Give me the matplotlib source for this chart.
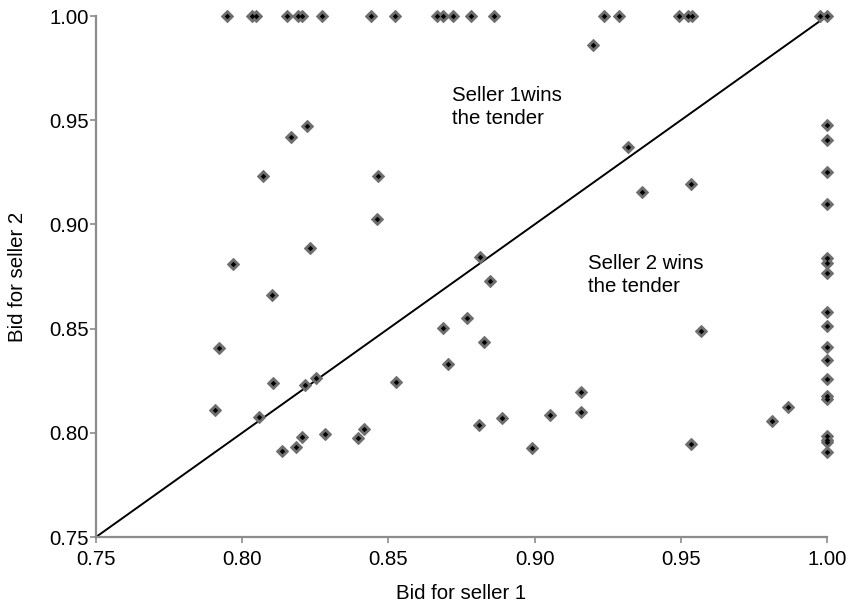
import matplotlib
matplotlib.use('Agg')
import matplotlib.pyplot as plt

# bids
bid_seller1 = [0.7948, 0.8035, 0.8046, 0.8154, 0.8192, 0.8203, 0.8274, 0.8440, 0.8523,
               0.8665, 0.8688, 0.8720, 0.8781, 0.8861, 0.9237, 0.9288, 0.9495, 0.9525,
               0.9538, 0.9976, 1.0,
               0.9201, 0.9320, 0.9368, 0.8223, 0.8168, 0.8072, 0.8466, 0.8460, 0.8232,
               0.7967, 0.8101, 0.7920, 0.8104, 0.8215, 0.8251, 0.7906, 0.8058, 0.8137,
               0.8183, 0.8205, 0.8283, 0.8395, 0.8418,
               0.8813, 0.8847, 0.8770, 0.8687, 0.8827, 0.8703, 0.8525, 0.9160, 0.9159,
               0.9053, 0.8888, 0.8811, 0.8990, 0.9534, 0.9569, 0.9534, 0.9813, 0.9867,
               1.0, 1.0, 1.0, 1.0, 1.0, 1.0, 1.0, 1.0, 1.0, 1.0, 1.0, 1.0, 1.0, 1.0,
               1.0, 1.0, 1.0, 1.0]
bid_seller2 = [1.0, 1.0, 1.0, 1.0, 1.0, 1.0, 1.0, 1.0, 1.0,
               1.0, 1.0, 1.0, 1.0, 1.0, 1.0, 1.0, 1.0, 1.0,
               1.0, 1.0, 1.0,
               0.9861, 0.9373, 0.9157, 0.9472, 0.9418, 0.9232, 0.9232, 0.9027, 0.8887,
               0.8810, 0.8663, 0.8405, 0.8238, 0.8228, 0.8264, 0.8109, 0.8077, 0.7914,
               0.7933, 0.7978, 0.7993, 0.7975, 0.8018,
               0.8842, 0.8727, 0.8549, 0.8503, 0.8437, 0.8332, 0.8245, 0.8194, 0.8098,
               0.8084, 0.8071, 0.8039, 0.7928, 0.9193, 0.8488, 0.7946, 0.8057, 0.8125,
               0.9477, 0.9405, 0.9251, 0.9096, 0.8837, 0.8813, 0.8768, 0.8578, 0.8511,
               0.8410, 0.8349, 0.8258, 0.8175, 0.8160, 0.7985, 0.7965, 0.7957, 0.7906]
diag = [0.75, 1.0]
ticks = [0.75, 0.80, 0.85, 0.90, 0.95, 1.00]

plt.rcParams['font.family'] = ['Liberation Sans', 'DejaVu Sans']
plt.rcParams['font.size'] = 14.7

fig = plt.figure(figsize=(8.58, 6.04), dpi=100)
ax = fig.add_axes([0.1119, 0.1109, 0.852, 0.8626])

ax.plot(diag, diag, color='black', lw=1.4, clip_on=False, zorder=2)
ax.plot(bid_seller1, bid_seller2, 'D', ms=6.3, mfc='#6e6e6e', mec='#6e6e6e', mew=0.8,
        ls='none', clip_on=False, zorder=3)
ax.plot(bid_seller1, bid_seller2, 'D', ms=2.8, mfc='black', mec='black', mew=0,
        ls='none', clip_on=False, zorder=4)

ax.text(0.8716, 0.9665, 'Seller 1wins\nthe tender', va='top', ha='left', linespacing=1.25)
ax.text(0.9184, 0.8858, 'Seller 2 wins\nthe tender', va='top', ha='left', linespacing=1.25)

ax.set_xlim(0.75, 1.0)
ax.set_ylim(0.75, 1.0)
ax.set_xticks(ticks)
ax.set_yticks(ticks)
ax.set_xticklabels(['%.2f' % t for t in ticks])
ax.set_yticklabels(['%.2f' % t for t in ticks])
ax.set_xlabel('Bid for seller 1', labelpad=11)
ax.set_ylabel('Bid for seller 2', labelpad=16)

for s in ['top', 'right']:
    ax.spines[s].set_visible(False)
for s in ['left', 'bottom']:
    ax.spines[s].set_color('#8c8c8c')
    ax.spines[s].set_linewidth(1.6)
ax.tick_params(direction='out', length=4.3, width=1.2, color='#8c8c8c')
ax.tick_params(axis='x', pad=5)
ax.tick_params(axis='y', pad=1)

plt.savefig('out.png', dpi=100)
